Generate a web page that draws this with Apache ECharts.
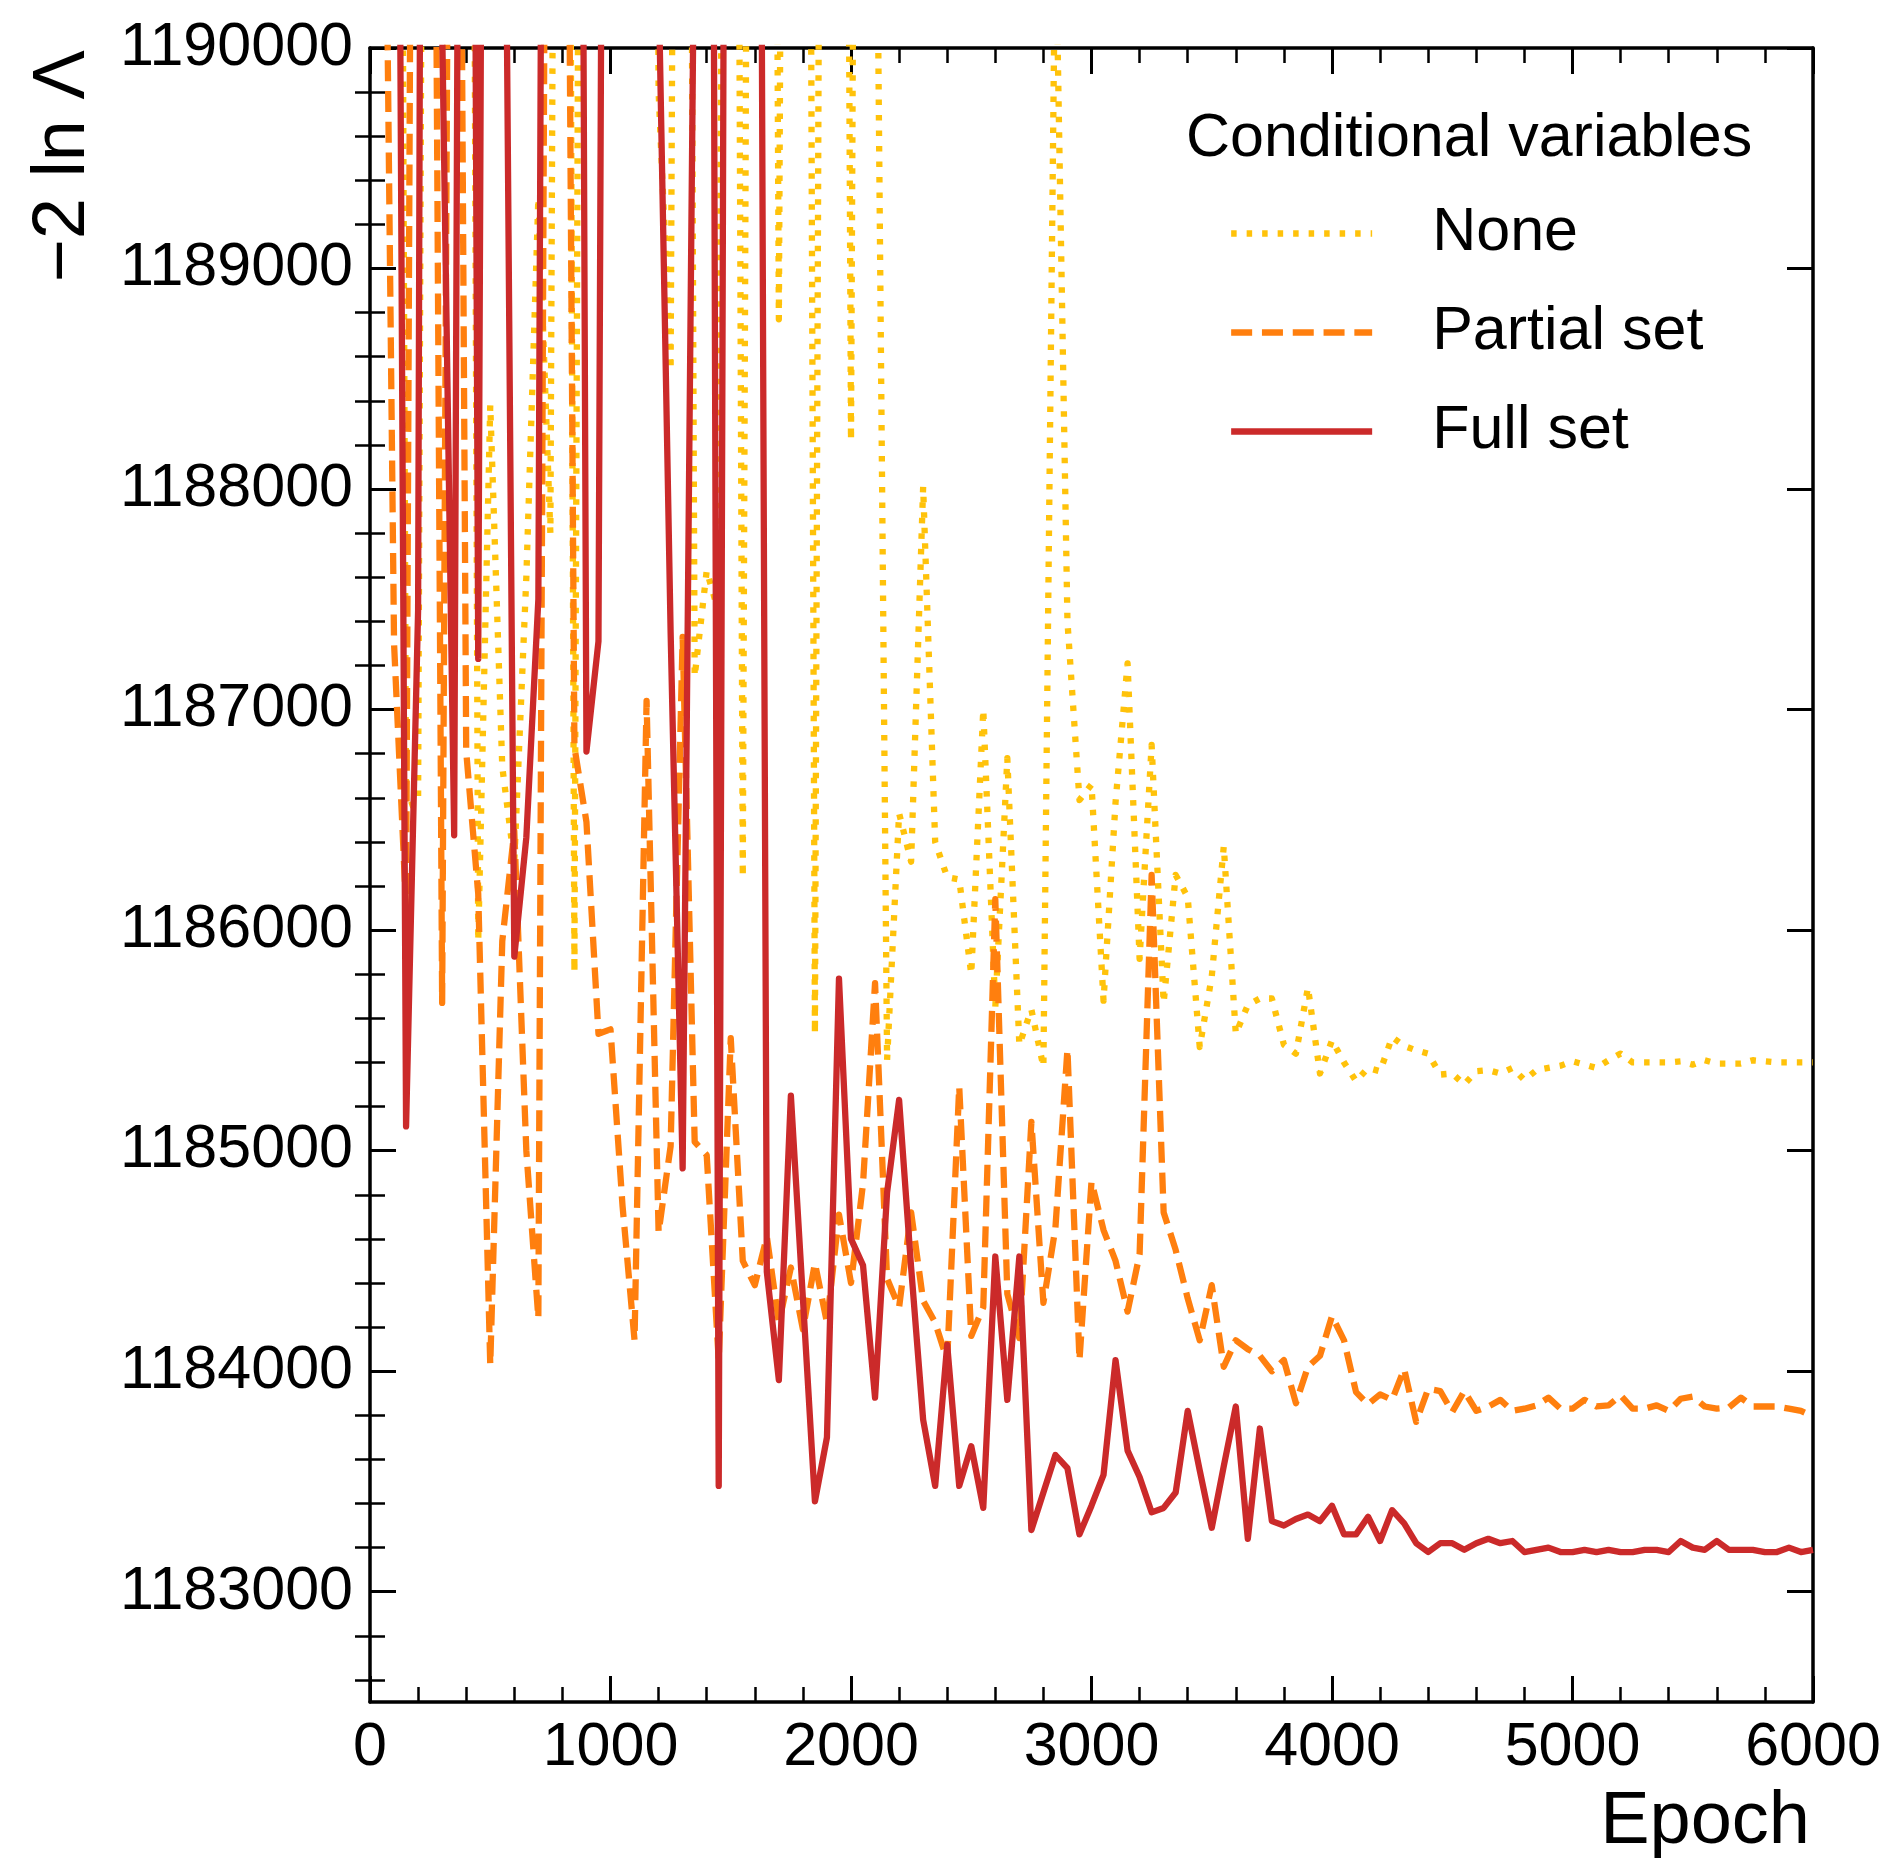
<!DOCTYPE html>
<html><head><meta charset="utf-8">
<script src="https://cdn.jsdelivr.net/npm/echarts@6/dist/echarts.min.js"></script>
<style>html,body{margin:0;padding:0;background:#fff}#c{width:1889px;height:1866px}</style>
</head><body><div id="c"></div><script>
const epochs = [
 0,50,100,150,200,250,300,350,400,450,
 500,550,600,650,700,750,800,850,900,950,
 1000,1050,1100,1150,1200,1250,1300,1350,1400,1450,
 1500,1550,1600,1650,1700,1750,1800,1850,1900,1950,
 2000,2050,2100,2150,2200,2250,2300,2350,2400,2450,
 2500,2550,2600,2650,2700,2750,2800,2850,2900,2950,
 3000,3050,3100,3150,3200,3250,3300,3350,3400,3450,
 3500,3550,3600,3650,3700,3750,3800,3850,3900,3950,
 4000,4050,4100,4150,4200,4250,4300,4350,4400,4450,
 4500,4550,4600,4650,4700,4750,4800,4850,4900,4950,
 5000,5050,5100,5150,5200,5250,5300,5350,5400,5450,
 5500,5550,5600,5650,5700,5750,5800,5850,5900,5950,
 6000];
const noneVals = [
 1200000,1200000,1200000,1186560,1186580,1200000,1200000,1200000,1200000,1185950,
 1188380,1186740,1186310,1187600,1189320,1187800,1200000,1185810,1200000,1200000,
 1200000,1200000,1200000,1200000,1189800,1188540,1200000,1187150,1187630,1187440,
 1200000,1186240,1200000,1200000,1188770,1200000,1200000,1185530,1200000,1200000,
 1188220,1200000,1191700,1185410,1186530,1186310,1188010,1186400,1186240,1186230,
 1185800,1187000,1185650,1186780,1185480,1185640,1185380,1190600,1187400,1186590,
 1186660,1185680,1186580,1187210,1185870,1186840,1185670,1186250,1186150,1185470,
 1185790,1186380,1185530,1185660,1185690,1185690,1185480,1185440,1185740,1185350,
 1185500,1185400,1185315,1185375,1185360,1185515,1185475,1185455,1185440,1185345,
 1185350,1185300,1185360,1185365,1185350,1185375,1185320,1185365,1185375,1185385,
 1185405,1185390,1185375,1185410,1185440,1185400,1185400,1185400,1185400,1185405,
 1185390,1185410,1185395,1185395,1185395,1185410,1185405,1185400,1185400,1185400,
 1185400];
const partialVals = [
 1200000,1192400,1187300,1186100,1198000,1195000,1185670,1196000,1186810,1186165,
 1184030,1185950,1186450,1185000,1184240,1196000,1195000,1186830,1186490,1185530,
 1185550,1184750,1184140,1187040,1184630,1185020,1187330,1185040,1184980,1184050,
 1185510,1184500,1184390,1184610,1184220,1184470,1184190,1184490,1184220,1184710,
 1184400,1184850,1185760,1184420,1184290,1184720,1184320,1184220,1184050,1185290,
 1184160,1184290,1186140,1184350,1184150,1185130,1184310,1184650,1185460,1184050,
 1184860,1184640,1184500,1184270,1184530,1186250,1184720,1184550,1184330,1184140,
 1184390,1184020,1184140,1184100,1184070,1184000,1184050,1183855,1184020,1184070,
 1184250,1184140,1183905,1183850,1183895,1183870,1184010,1183770,1183920,1183910,
 1183815,1183910,1183820,1183840,1183870,1183820,1183830,1183845,1183880,1183830,
 1183830,1183870,1183840,1183845,1183890,1183830,1183830,1183845,1183820,1183875,
 1183885,1183840,1183830,1183835,1183880,1183840,1183840,1183840,1183830,1183820,
 1183795];
const fullVals = [
 1200000,1200000,1195400,1185110,1187450,1205000,1190100,1186430,1200000,1187230,
 1200000,1192700,1185880,1186420,1187500,1200000,1200000,1200000,1186810,1187310,
 1200000,1200000,1200000,1200000,1190300,1187350,1184920,1190800,1200000,1183480,
 1200000,1200000,1198000,1184450,1183960,1185250,1184330,1183410,1183700,1185780,
 1184600,1184480,1183880,1184810,1185230,1184470,1183780,1183480,1184120,1183480,
 1183660,1183380,1184520,1183870,1184520,1183280,1183450,1183620,1183560,1183260,
 1183390,1183530,1184050,1183640,1183520,1183360,1183380,1183450,1183820,1183550,
 1183290,1183570,1183840,1183240,1183740,1183320,1183300,1183330,1183350,1183320,
 1183390,1183260,1183260,1183340,1183230,1183370,1183310,1183220,1183180,1183220,
 1183220,1183190,1183220,1183240,1183220,1183230,1183180,1183190,1183200,1183180,
 1183180,1183190,1183180,1183190,1183180,1183180,1183190,1183190,1183180,1183230,
 1183200,1183190,1183230,1183190,1183190,1183190,1183180,1183180,1183200,1183180,
 1183190];
const yMajorTicks = [1183000,1184000,1185000,1186000,1187000,1188000,1189000,1190000];
const yMinorTicks = [1182600,1182800,1183200,1183400,1183600,1183800,1184200,1184400,1184600,1184800,
 1185200,1185400,1185600,1185800,1186200,1186400,1186600,1186800,1187200,1187400,1187600,1187800,
 1188200,1188400,1188600,1188800,1189200,1189400,1189600,1189800];
const seriesNames = ['None','Partial set','Full set'];
const legendTitle = 'Conditional variables';
const xLabel = 'Epoch';
const yLabel = '\u22122 ln \u039b';

const FONT = 'Liberation Sans';
const BLACK = '#000';
const COLORS = ['#FFC20A','#FF7F0E','#CB2A2A'];
const LW = 6.3;
const axisLine = {show:true, onZero:false, lineStyle:{color:BLACK, width:3.5}};
const majorTick = {show:true, inside:true, length:26, lineStyle:{color:BLACK, width:3}};
const minorTickLen = 15;
const fmt = v => String(v);

function xAx(pos, labels){
  return {type:'value', min:0, max:6000, interval:1000, position:pos,
    axisLine:axisLine, axisTick:majorTick,
    minorTick:{show:true, splitNumber:5, length:minorTickLen, lineStyle:{color:BLACK, width:2.5}},
    axisLabel:{show:labels, margin:16, color:BLACK, fontSize:61, fontFamily:FONT, formatter:fmt, showMaxLabel:true, showMinLabel:true},
    splitLine:{show:false}, minorSplitLine:{show:false}};
}
function yMajor(pos, labels){
  return {type:'value', min:1182500, max:1190000, position:pos,
    axisLine:axisLine,
    axisTick:Object.assign({}, majorTick, {customValues:yMajorTicks}),
    axisLabel:{show:labels, customValues:yMajorTicks, margin:17, color:BLACK, fontSize:61, fontFamily:FONT, formatter:fmt},
    splitLine:{show:false}};
}
function yMinor(pos){
  return {type:'value', min:1182500, max:1190000, position:pos,
    axisLine:{show:false},
    axisTick:{show:true, inside:true, length:minorTickLen, customValues:yMinorTicks, lineStyle:{color:BLACK, width:2.5}},
    axisLabel:{show:false, customValues:yMinorTicks},
    splitLine:{show:false}};
}
function mkSeries(i, vals, dash){
  return {name:seriesNames[i], type:'line', xAxisIndex:0, yAxisIndex:0,
    data:epochs.map((e,k)=>[e, vals[k]]),
    showSymbol:false, symbol:'none', clip:true, z:2+i,
    itemStyle:{color:COLORS[i]},
    lineStyle:{color:COLORS[i], width:LW, type:dash, cap:'butt', join:'round'}};
}

const chart = echarts.init(document.getElementById('c'), null, {renderer:'canvas'});
chart.setOption({
  animation:false,
  backgroundColor:'#fff',
  grid:{left:370, top:48, right:76, bottom:164, containLabel:false},
  xAxis:[xAx('bottom', true), xAx('top', false)],
  yAxis:[yMajor('left', true), yMinor('left'), yMajor('right', false), yMinor('right')],
  legend:{orient:'vertical', left:1228, top:203, padding:0,
    itemWidth:141, itemHeight:60, itemGap:38,
    data:seriesNames,
    itemStyle:{color:'transparent', borderColor:'transparent', borderWidth:0},
    lineStyle:{width:LW},
    textStyle:{fontSize:61, fontFamily:FONT, color:BLACK, padding:[8,0,0,55]}},
  graphic:[
    {type:'text', x:1186, y:139, style:{text:legendTitle, fontSize:61, fontFamily:FONT, fill:BLACK, align:'left', verticalAlign:'middle'}},
    {type:'text', x:1810, y:1823, style:{text:xLabel, fontSize:74, fontFamily:FONT, fill:BLACK, align:'right', verticalAlign:'middle'}},
    {type:'text', x:64, y:50, rotation:Math.PI/2, style:{text:yLabel, fontSize:74, fontFamily:FONT, fill:BLACK, align:'right', verticalAlign:'middle'}}
  ],
  series:[
    mkSeries(0, noneVals, [5.5, 10]),
    mkSeries(1, partialVals, [21, 9.8]),
    mkSeries(2, fullVals, 'solid')
  ]
});
</script></body></html>
